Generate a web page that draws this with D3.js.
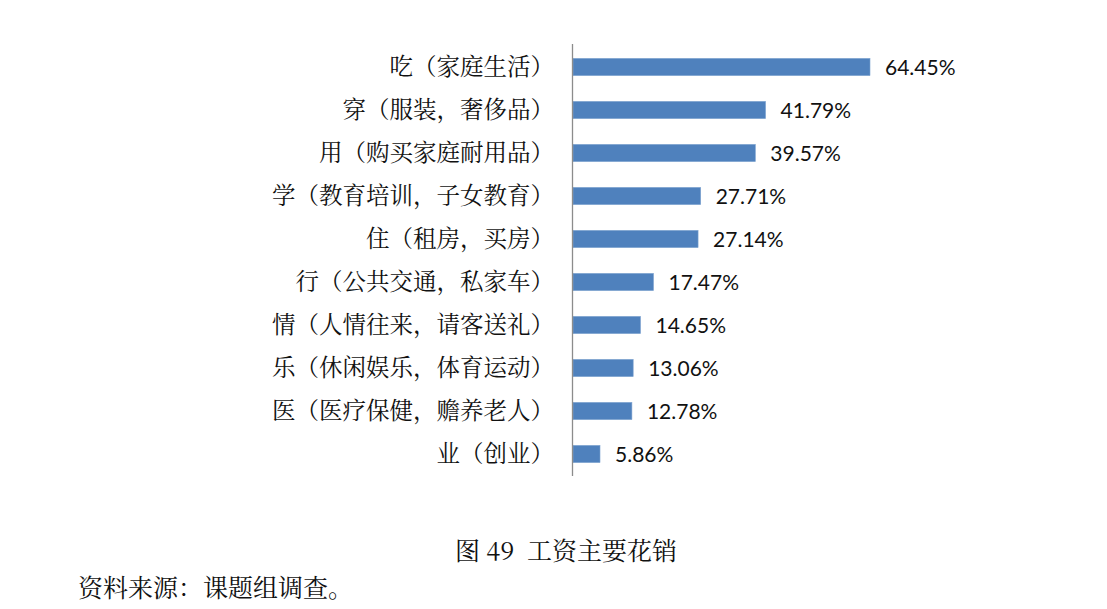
<!DOCTYPE html>
<html>
<head>
<meta charset="utf-8">
<script src="https://cdn.jsdelivr.net/npm/d3@7"></script>
<style>
body { margin: 0; background: #fff; }
svg { display: block; }
</style>
</head>
<body>
<svg id="chart" width="1107" height="609"></svg>
<script>
//categories and values
var categories = ['吃（家庭生活）', '穿（服装，奢侈品）', '用（购买家庭耐用品）', '学（教育培训，子女教育）',
	'住（租房，买房）', '行（公共交通，私家车）', '情（人情往来，请客送礼）', '乐（休闲娱乐，体育运动）',
	'医（医疗保健，赡养老人）', '业（创业）'];
var values = [64.45, 41.79, 39.57, 27.71, 27.14, 17.47, 14.65, 13.06, 12.78, 5.86];
var valueLabels = ['64.45%', '41.79%', '39.57%', '27.71%', '27.14%', '17.47%', '14.65%', '13.06%', '12.78%', '5.86%'];

var titleText = '图 49  工资主要花销';
var sourceText = '资料来源：课题组调查。';

var svg = d3.select('#chart');

//scales
var x = d3.scaleLinear().domain([0, 64.45]).range([573, 870]);
var y = d3.scaleBand().domain(categories).range([45.5, 475.5]).paddingInner(0.6).paddingOuter(0.3);

var rows = categories.map((c, i) => ({cat: c, val: values[i], label: valueLabels[i]}));

//bars
svg.selectAll('.bar')
	.data(rows)
	.join('rect')
	.classed('bar', true)
	.attr('x', x(0))
	.attr('y', d => y(d.cat))
	.attr('width', d => x(d.val) - x(0))
	.attr('height', y.bandwidth())
	.style('fill', '#4f81bd')
	.style('stroke', '#7ea3d0')
	.style('stroke-width', 0.6);

//vertical axis line
svg.append('line')
	.attr('x1', 572.5).attr('x2', 572.5)
	.attr('y1', 44).attr('y2', 476)
	.style('stroke', '#8c8c8c')
	.style('stroke-width', 1.3);

//category labels
svg.selectAll('.cat')
	.data(rows)
	.join('text')
	.classed('cat', true)
	.attr('x', 554)
	.attr('y', d => y(d.cat) + y.bandwidth() / 2)
	.attr('dy', '0.36em')
	.style('text-anchor', 'end')
	.style('font-family', '"Noto Serif CJK SC", "Noto Sans CJK SC", serif')
	.style('font-size', '23.5px')
	.style('fill', '#111')
	.text(d => d.cat);

//value labels
svg.selectAll('.val')
	.data(rows)
	.join('text')
	.classed('val', true)
	.attr('x', d => x(d.val) + 15)
	.attr('y', d => y(d.cat) + y.bandwidth() / 2)
	.attr('dy', '0.36em')
	.style('font-family', 'Lato, "Open Sans", sans-serif')
	.style('font-size', '21px')
	.style('fill', '#111')
	.text(d => d.label);

//caption and source
svg.append('text')
	.attr('x', 566)
	.attr('y', 560)
	.style('text-anchor', 'middle')
	.style('font-family', '"Noto Serif CJK SC", "Noto Sans CJK SC", serif')
	.style('font-size', '25px')
	.style('fill', '#111')
	.style('white-space', 'pre')
	.text(titleText);

svg.append('text')
	.attr('x', 78)
	.attr('y', 597)
	.style('font-family', '"Noto Serif CJK SC", "Noto Sans CJK SC", serif')
	.style('font-size', '25px')
	.style('fill', '#111')
	.text(sourceText);
</script>
</body>
</html>
